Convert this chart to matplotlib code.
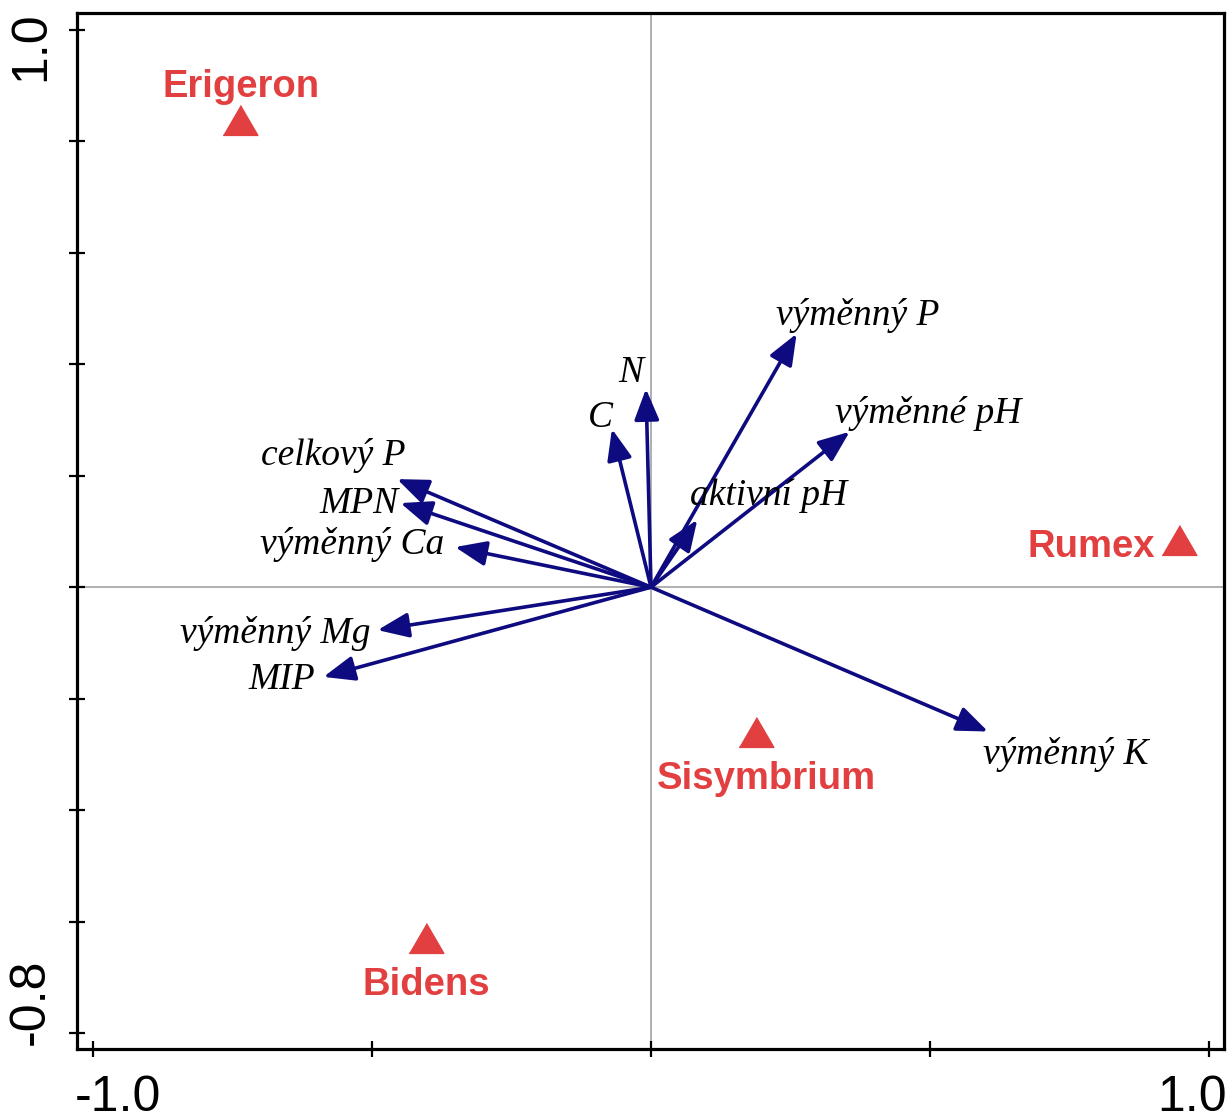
import numpy as np
import matplotlib
matplotlib.use("Agg")
from matplotlib import pyplot as plt
from matplotlib.transforms import ScaledTranslation

# environmental variables (arrow tips)
env_names = ["výměnný P", "N", "C", "výměnné pH", "aktivní pH", "celkový P",
             "MPN", "výměnný Ca", "výměnný Mg", "MIP", "výměnný K"]
env_x = [0.261, -0.009, -0.070, 0.356, 0.083, -0.455, -0.449, -0.351, -0.490, -0.587, 0.604]
env_y = [0.455, 0.356, 0.284, 0.279, 0.121, 0.194, 0.151, 0.072, -0.077, -0.161, -0.259]

# species scores
sp_names = ["Erigeron", "Rumex", "Sisymbrium", "Bidens"]
sp_x = [-0.736, 0.947, 0.188, -0.403]
sp_y = [0.838, 0.085, -0.259, -0.629]

# label positions (baseline centre)
env_lab_x = [0.370, -0.036, -0.091, 0.496, 0.211, -0.570, -0.523, -0.536, -0.673, -0.6625, 0.743]
env_lab_y = [0.471, 0.369, 0.288, 0.295, 0.147, 0.219, 0.134, 0.059, -0.101, -0.182, -0.317]
sp_lab_x = [-0.735, 0.789, 0.206, -0.403]
sp_lab_y = [0.879, 0.055, -0.362, -0.732]

xticks = [-1.0, -0.5, 0.0, 0.5, 1.0]
yticks = [-0.8, -0.6, -0.4, -0.2, 0.0, 0.2, 0.4, 0.6, 0.8, 1.0]

arrow_col = "#0E0A80"
red = "#E24040"

fig = plt.figure(figsize=(12.27, 11.15), dpi=100)
ax = fig.add_axes([77 / 1227, 1 - 1049 / 1115, 1147 / 1227, 1036 / 1115])
ax.set_xlim(-1.0287, 1.0269)
ax.set_ylim(-0.8288, 1.0305)

ax.axhline(0, color="#9a9a9a", lw=1.1, zorder=1)
ax.axvline(0, color="#9a9a9a", lw=1.1, zorder=1)

for i, name in enumerate(env_names):
    ax.annotate("", xy=(env_x[i], env_y[i]), xytext=(0, 0),
                arrowprops=dict(arrowstyle="-|>,head_length=0.95,head_width=0.38",
                                mutation_scale=20, color=arrow_col, lw=2.6,
                                shrinkA=0, shrinkB=0), zorder=3)
    ax.text(env_lab_x[i], env_lab_y[i], name, ha="center", va="baseline",
            fontsize=27, style="italic", family="Liberation Serif", zorder=4)

tri = [(-0.5, -0.43), (0.5, -0.43), (0.0, 0.43)]
ax.plot(sp_x, sp_y, linestyle="none", marker=tri, markersize=25, color=red, zorder=5)
for i, name in enumerate(sp_names):
    ax.text(sp_lab_x[i], sp_lab_y[i], name, ha="center", va="baseline", fontsize=27.5,
            fontweight="bold", color=red, family="Liberation Sans", zorder=5)

ax.set_xticks(xticks)
ax.set_yticks(yticks)
ax.set_xticklabels(["-1.0", "", "", "", "1.0"], family="Liberation Sans", fontsize=36)
ax.set_yticklabels(["-0.8", "", "", "", "", "", "", "", "", "1.0"],
                   family="Liberation Sans", fontsize=36, rotation=90, va="center")
ax.tick_params(direction="inout", length=12, width=1.6)
ax.tick_params(axis="x", pad=13)
ax.tick_params(axis="y", pad=10.5)
for s in ax.spines.values():
    s.set_linewidth(2.3)

# shift end labels like the original
xl = ax.get_xticklabels()
xl[0].set_transform(xl[0].get_transform() + ScaledTranslation(0.245, 0, fig.dpi_scale_trans))
xl[-1].set_transform(xl[-1].get_transform() + ScaledTranslation(-0.17, 0, fig.dpi_scale_trans))
yl = ax.get_yticklabels()
yl[0].set_transform(yl[0].get_transform() + ScaledTranslation(0, 0.31, fig.dpi_scale_trans))
yl[-1].set_transform(yl[-1].get_transform() + ScaledTranslation(0, -0.16, fig.dpi_scale_trans))

fig.savefig("out.png", dpi=100)
